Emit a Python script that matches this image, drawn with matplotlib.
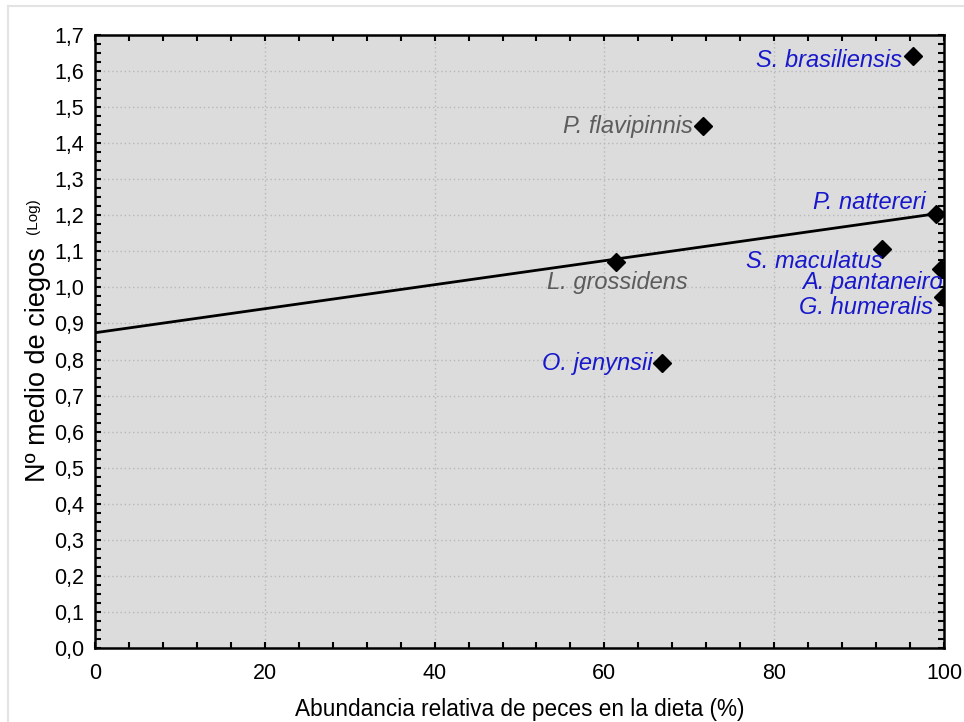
import numpy as np
import matplotlib
matplotlib.use("Agg")
import matplotlib.pyplot as plt
from matplotlib.ticker import MultipleLocator, FuncFormatter
from matplotlib.lines import Line2D

plt.rcParams['font.family'] = ['Liberation Sans', 'DejaVu Sans']

species = ["S. brasiliensis", "P. flavipinnis", "P. nattereri", "S. maculatus",
           "A. pantaneiro", "G. humeralis", "L. grossidens", "O. jenynsii"]
fish_pct = [96.3, 71.6, 99.1, 92.7, 99.6, 99.9, 61.4, 66.8]
log_ceca = [1.642, 1.448, 1.204, 1.106, 1.051, 0.973, 1.070, 0.790]
label_group = ["blue", "gray", "blue", "blue", "blue", "blue", "gray", "blue"]

colors = {"blue": "#1717cc", "gray": "#5c5c5c"}
# label offsets in pixels (dx, dy) and alignment
offsets = [(-11, -5, 'right'), (-10, -1, 'right'), (-11, 11, 'right'), (1, -12, 'right'),
           (2, -13, 'right'), (-10, -10, 'right'), (1, -20, 'center'), (-10, 0, 'right')]

fig = plt.figure(figsize=(9.64, 7.22), dpi=100)
ax = fig.add_axes([95/964, 74/722, 849/964, 613/722])
ax.set_facecolor('#dcdcdc')

x = np.array(fish_pct)
y = np.array(log_ceca)
slope, intercept = np.polyfit(x, y, 1)
xl = np.array([0, 100])
ax.plot(xl, intercept + slope * xl, color='black', lw=2, zorder=3)

ax.plot(x, y, linestyle='none', marker='D', markersize=9, color='black', zorder=4, clip_on=True)

for name, xi, yi, grp, (dx, dy, ha) in zip(species, fish_pct, log_ceca, label_group, offsets):
    ax.annotate(name, (xi, yi), xytext=(dx, dy), textcoords='offset pixels',
                ha=ha, va='center', fontsize=17, style='italic', color=colors[grp], zorder=5)

ax.set_xlim(0, 100)
ax.set_ylim(0, 1.7)
ax.xaxis.set_major_locator(MultipleLocator(20))
ax.xaxis.set_minor_locator(MultipleLocator(4))
ax.yaxis.set_major_locator(MultipleLocator(0.1))
ax.yaxis.set_minor_locator(MultipleLocator(0.025))
ax.yaxis.set_major_formatter(FuncFormatter(lambda v, p: f"{v:.1f}".replace('.', ',')))
ax.xaxis.set_major_formatter(FuncFormatter(lambda v, p: f"{v:.0f}"))

ax.tick_params(which='both', direction='in', top=True, right=True, width=1.5, labelsize=15.5)
ax.tick_params(which='major', length=4, pad=8)
ax.tick_params(axis='x', which='major', pad=11)
ax.tick_params(which='minor', length=4)
ax.grid(True, which='major', linestyle=(0, (1, 2)), color='#b8b8b8', linewidth=1)
ax.set_axisbelow(True)
for s in ax.spines.values():
    s.set_linewidth(1.8)

ax.set_xlabel("Abundancia relativa de peces en la dieta (%)", fontsize=16.3, labelpad=10)
fig.text(38/964, 1 - 365/722, "Nº medio de ciegos", rotation=90, ha='center', va='center', fontsize=19.5)
fig.text(33/964, 1 - 216/722, "(Log)", rotation=90, ha='center', va='center', fontsize=11)

# light outer frame (top and left edges visible)
fig.add_artist(Line2D([8/964, 1], [1 - 6/722, 1 - 6/722], color='#e3e3e3', lw=1.5, transform=fig.transFigure))
fig.add_artist(Line2D([8/964, 8/964], [0, 1 - 6/722], color='#e3e3e3', lw=1.5, transform=fig.transFigure))

fig.savefig("out.png", dpi=100)
